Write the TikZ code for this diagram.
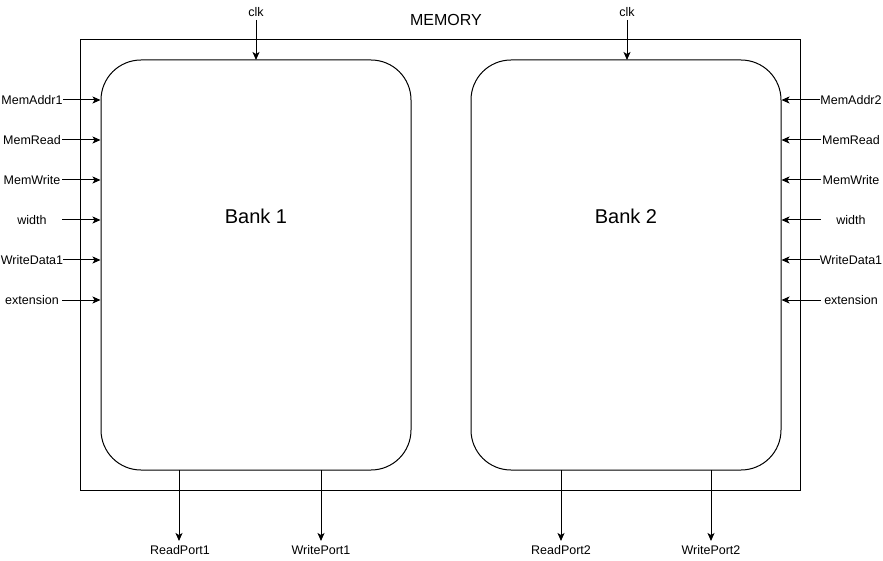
\documentclass[tikz,border=0pt]{standalone}
\usepackage{fontspec}
\setmainfont{Liberation Sans}
\usetikzlibrary{arrows.meta}
\begin{document}
\begin{tikzpicture}[x=1pt,y=-1pt,
  sig/.style={font=\fontsize{12.5}{14}\selectfont, inner sep=0pt, minimum height=14pt, minimum width=60pt},
  bot/.style={font=\fontsize{12.5}{14}\selectfont, inner sep=0pt, anchor=north},
  bank/.style={draw, line width=1pt, rounded corners=40pt, minimum width=310pt, minimum height=410pt, font=\fontsize{20}{24}\selectfont, text depth=0pt},
  arr/.style={line width=1pt, -{Stealth[length=8pt,width=7pt,inset=2pt]}}
]
\useasboundingbox (0,0) rectangle (883,561);
\node[draw, line width=1pt, minimum width=720pt, minimum height=450pt, inner sep=0pt] (mem) at (440,265) {};
\node[font=\fontsize{16}{19}\selectfont, inner sep=0pt] (memlabel) at (446,20) {MEMORY};
\node[bank] (b1) at (256,265) {};
\node[bank] (b2) at (626,265) {};
\node[font=\fontsize{20}{24}\selectfont] (t1) at (256,216) {Bank 1};
\node[font=\fontsize{20}{24}\selectfont] (t2) at (626,216) {Bank 2};
% clocks
\node[bot, anchor=south] (clk1) at (256,17) {clk};
\node[bot, anchor=south] (clk2) at (627,17) {clk};
\coordinate (s1) at (256,20);
\coordinate (s2) at (627,20);
\coordinate (c1) at (256,60);
\coordinate (c2) at (627,60);
\draw[arr] (s1) -- (c1);
\draw[arr] (s2) -- (c2);
% left signals
\foreach \n/\t/\y in {la/MemAddr1/100, lb/MemRead/140, lc/MemWrite/180, ld/width/220, le/WriteData1/260, lf/extension/300}{
  \node[sig] (\n) at (32,\y) {\t};
  \draw[arr] (\n.east) -- (\n.east -| b1.west);
}
% right signals
\foreach \n/\t/\y in {ra/MemAddr2/100, rb/MemRead/140, rc/MemWrite/180, rd/width/220, re/WriteData1/260, rf/extension/300}{
  \node[sig] (\n) at (851,\y) {\t};
  \draw[arr] (\n.west) -- (\n.west -| b2.east);
}
% bottom ports
\node[bot] (p1) at (180,545) {ReadPort1};
\node[bot] (p2) at (321,545) {WritePort1};
\node[bot] (p3) at (561,545) {ReadPort2};
\node[bot] (p4) at (711,545) {WritePort2};
\coordinate (q1) at (179,470);
\coordinate (q2) at (321,470);
\coordinate (q3) at (561,470);
\coordinate (q4) at (711,470);
\coordinate (e1) at (179,541);
\coordinate (e2) at (321,541);
\coordinate (e3) at (561,541);
\coordinate (e4) at (711,541);
\draw[arr] (q1) -- (e1);
\draw[arr] (q2) -- (e2);
\draw[arr] (q3) -- (e3);
\draw[arr] (q4) -- (e4);
\end{tikzpicture}
\end{document}
